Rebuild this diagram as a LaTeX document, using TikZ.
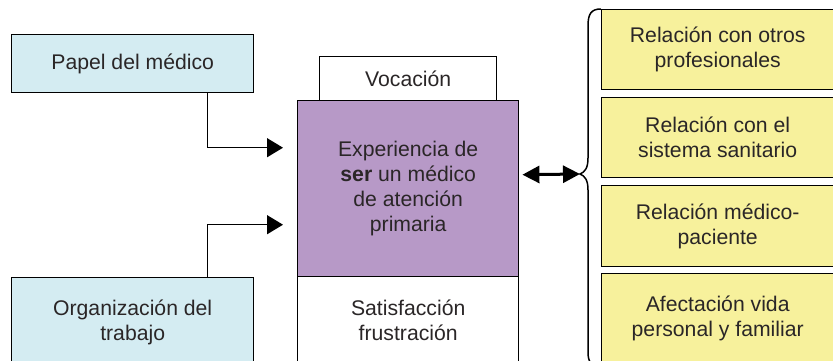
\documentclass[tikz,border=0pt]{standalone}
\usepackage{fontspec}
\setmainfont{Liberation Sans}
\usetikzlibrary{arrows.meta,calc}
\definecolor{txt}{HTML}{2A2627}
\definecolor{bluef}{HTML}{D4ECF2}
\definecolor{purf}{HTML}{B799C7}
\definecolor{yelf}{HTML}{F7F19C}
\begin{document}
\begin{tikzpicture}[x=1pt,y=-1pt,
  box/.style={draw=black,line width=1.4pt,inner sep=0pt,anchor=north west,
    align=center,text=txt,font=\fontsize{21.2}{25}\selectfont},
  conn/.style={line width=1.3pt,-{Triangle[length=16pt,width=19pt]}},
  dbl/.style={line width=3pt,{Triangle[length=17pt,width=17pt]}-{Triangle[length=17pt,width=17pt]}}]
\useasboundingbox (0,0) rectangle (833,360);
\clip (0,0) rectangle (833,360);
\fill[white] (0,0) rectangle (833,360);
% left boxes
\node[box,fill=bluef,minimum width=242pt,minimum height=58pt] (papel) at (11,34) {Papel del médico};
\node[box,fill=bluef,minimum width=242pt,minimum height=90pt] (org) at (11,277) {Organización del\\trabajo};
% central column
\node[box,fill=white,minimum width=177pt,minimum height=44pt] (voc) at (319,56) {Vocación};
\node[box,fill=purf,minimum width=221pt,minimum height=176pt] (exp) at (297,100) {Experiencia de\\\textbf{ser} un médico\\de atención\\primaria};
\node[box,fill=white,minimum width=221pt,minimum height=88pt] (sat) at (297,276) {Satisfacción\\frustración};
% right boxes
\node[box,fill=yelf,minimum width=232pt,minimum height=80pt] (r1) at (601,9) {Relación con otros\\profesionales};
\node[box,fill=yelf,minimum width=232pt,minimum height=80pt] (r2) at (601,97) {Relación con el\\sistema sanitario};
\node[box,fill=yelf,minimum width=232pt,minimum height=81pt] (r3) at (601,185) {Relación médico-\\paciente};
\node[box,fill=yelf,minimum width=232pt,minimum height=90pt] (r4) at (601,273) {Afectación vida\\personal y familiar};
% connectors
\draw[conn] ($(papel.south east)+(-47,0)$) |- ($(exp.west)+(-14,-41)$);
\draw[conn] ($(org.north east)+(-47,0)$) |- ($(exp.west)+(-14,36)$);
% brace
\coordinate (bt) at (580,174);
\draw[line width=1.5pt] (r1.north west) .. controls (591,9) and (588,14) .. (588,26)
  -- (588,158) .. controls (588,168) and (585,172) .. (bt)
  .. controls (585,176) and (588,180) .. (588,190)
  -- (588,352) .. controls (588,362) and (591,366) .. (601,366);
\draw[dbl] ($(exp.east)+(3,-14)$) -- (bt);
\end{tikzpicture}
\end{document}
